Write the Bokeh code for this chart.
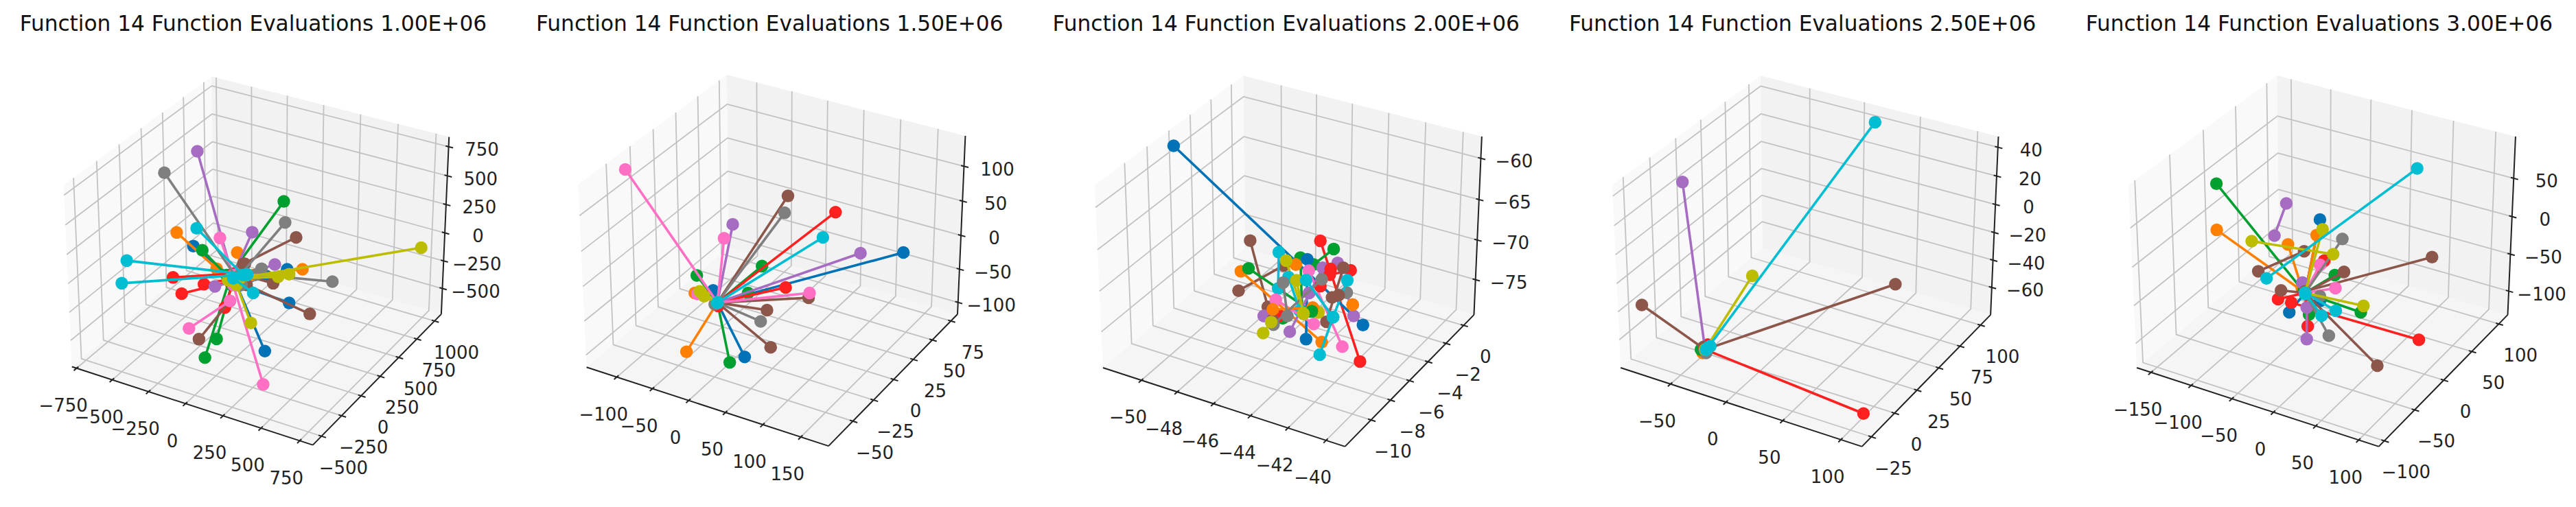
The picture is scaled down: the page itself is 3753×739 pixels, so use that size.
from bokeh.plotting import figure
from bokeh.layouts import row
from bokeh.models import Range1d, ColumnDataSource
from bokeh.core.properties import value
from bokeh.embed import file_html
from bokeh.resources import INLINE

TITLES = ["Function 14 Function Evaluations 1.00E+06",
          "Function 14 Function Evaluations 1.50E+06",
          "Function 14 Function Evaluations 2.00E+06",
          "Function 14 Function Evaluations 2.50E+06",
          "Function 14 Function Evaluations 3.00E+06"]
PALETTE = ["#0072b5", "#ff8000", "#00a030", "#ff2020", "#a56cc1",
           "#8c564b", "#ff70c4", "#7f7f7f", "#bcbd00", "#00bed2"]

# axis limits and ticks of each panel
X_LIMITS = [(-783, 834), (-143, 186), (-52.18, -39.02), (-96, 117.8), (-168, 123)]
Y_LIMITS = [(-606, 1097), (-78.6, 84), (-12.6, 1.2), (-35, 112.5), (-109, 117)]
Z_LIMITS = [(-735, 833), (-118, 143), (-79.5, -57.4), (-80.3, 47.4), (-132.6, 103.6)]
X_TICKS = [[-750, -500, -250, 0, 250, 500, 750], [-100, -50, 0, 50, 100, 150],
           [-50, -48, -46, -44, -42, -40], [-50, 0, 50, 100], [-150, -100, -50, 0, 50, 100]]
Y_TICKS = [[-500, -250, 0, 250, 500, 750, 1000], [-50, -25, 0, 25, 50, 75],
           [-10, -8, -6, -4, -2, 0], [-25, 0, 25, 50, 75, 100], [-100, -50, 0, 50, 100]]
Z_TICKS = [[-500, -250, 0, 250, 500, 750], [-100, -50, 0, 50, 100],
           [-75, -70, -65, -60], [-60, -40, -20, 0, 20, 40], [-100, -50, 0, 50]]

# swarm segments, read in the projected picture plane of each panel (series colour, two ends)
P1_C = [7, 4, 2, 2, 2, 7, 5, 4, 1, 9, 6, 6, 0, 2, 1, 8, 9, 9, 3, 3, 3, 4, 4, 1, 0, 0, 0, 0, 7, 7, 7, 5, 5, 5, 5, 8, 8, 8, 9, 6, 3, 8, 9]
P1_XA = [493, 592, 852, 615, 650, 856, 889, 757, 530, 590, 660, 790, 580, 607, 712, 1265, 380, 365, 519, 545, 612, 825, 645, 908, 862, 800, 868, 795, 998, 785, 720, 820, 930, 597, 735, 868, 835, 753, 760, 567, 675, 685, 742]
P1_YA = [533, 467, 622, 1105, 1047, 687, 733, 717, 718, 705, 735, 1188, 760, 773, 780, 765, 805, 875, 857, 907, 878, 817, 885, 832, 832, 853, 936, 1085, 870, 830, 880, 875, 970, 1048, 815, 847, 855, 998, 905, 1015, 950, 865, 848]
P1_XB = [725, 700, 690, 690, 695, 720, 730, 700, 650, 730, 700, 700, 700, 680, 725, 690, 740, 740, 700, 690, 700, 730, 700, 760, 720, 730, 720, 710, 770, 720, 720, 730, 740, 690, 720, 740, 720, 710, 700, 690, 700, 685, 742]
P1_YB = [880, 860, 850, 860, 880, 850, 815, 850, 830, 850, 850, 880, 860, 850, 830, 865, 848, 848, 845, 870, 860, 850, 870, 850, 880, 870, 880, 880, 848, 850, 880, 850, 880, 930, 850, 850, 860, 880, 860, 930, 870, 865, 848]

P2_C = [6, 5, 7, 3, 9, 4, 6, 4, 0, 2, 2, 0, 3, 2, 6, 5, 5, 7, 5, 1, 0, 2, 1, 6, 8, 8, 7, 3, 5, 9]
P2_XA = [331, 820, 810, 963, 925, 654, 628, 1038, 1167, 742, 546, 595, 813, 700, 885, 882, 757, 738, 768, 515, 690, 645, 540, 548, 555, 568, 600, 610, 605, 608]
P2_YA = [523, 605, 657, 655, 733, 693, 736, 782, 780, 822, 851, 897, 888, 905, 905, 920, 958, 993, 1073, 1087, 1103, 1120, 905, 908, 900, 915, 940, 945, 938, 935]
P2_XB = [608] * 30
P2_YB = [935] * 30

P3_C = [5, 5, 1, 2, 3, 2, 2, 0, 9, 1, 0, 8, 6, 4, 4, 3, 3, 5, 9, 7, 1, 6, 4, 4, 2, 3, 5, 8, 1, 7, 8, 7, 8, 9, 9, 9, 5, 2, 8]
P3_XA = [662, 627, 634, 657, 873, 913, 813, 432, 748, 799, 834, 770, 838, 880, 925, 964, 904, 942, 777, 952, 970, 739, 703, 839, 760, 750, 729, 867, 730, 732, 701, 774, 801, 871, 954, 830, 908, 847, 822]
P3_YA = [743, 898, 838, 829, 744, 769, 796, 450, 779, 817, 801, 805, 836, 827, 812, 835, 831, 827, 856, 904, 941, 926, 976, 905, 983, 975, 990, 965, 956, 1003, 1029, 976, 866, 1096, 866, 865, 919, 962, 969]
P3_XB = [715, 763, 877, 846, 992, 853, 818, 1001, 746, 799, 830, 822, 939, 781, 973, 901, 873, 891, 811, 952, 970, 853, 703, 839, 760, 750, 729, 867, 850, 877, 725, 761, 822, 911, 911, 911, 928, 847, 822]
P3_YB = [948, 820, 1057, 962, 1117, 817, 962, 1004, 891, 817, 1048, 969, 1071, 1025, 976, 849, 884, 994, 960, 904, 941, 1001, 976, 905, 983, 975, 990, 965, 950, 863, 995, 873, 969, 980, 980, 980, 912, 962, 969]

P4_C = [9, 4, 8, 5, 5, 3, 1, 0, 2, 5, 3, 7, 9, 9]
P4_XA = [993, 414, 624, 1054, 292, 958, 475, 480, 470, 478, 490, 485, 485, 497]
P4_YA = [377, 562, 852, 878, 942, 1278, 1090, 1085, 1080, 1072, 1065, 1090, 1080, 1070]
P4_XB = [490, 482, 482, 482, 482, 482, 475, 480, 470, 478, 490, 485, 485, 497]
P4_YB = [1075, 1080, 1080, 1080, 1080, 1080, 1090, 1085, 1080, 1072, 1065, 1090, 1080, 1070]

P5_C = [9, 2, 1, 4, 0, 8, 1, 8, 1, 7, 5, 5, 3, 6, 2, 5, 6, 5, 3, 3, 7, 0, 8, 2, 0, 2, 9, 9, 3, 4, 7, 5, 4, 9]
P5_XA = [1085, 476, 477, 688, 790, 798, 780, 583, 693, 858, 742, 1130, 803, 790, 835, 863, 837, 672, 663, 703, 790, 790, 922, 914, 697, 757, 838, 795, 753, 750, 817, 964, 737, 745]
P5_YA = [520, 567, 710, 628, 678, 708, 726, 745, 755, 738, 776, 794, 805, 818, 850, 840, 890, 897, 924, 935, 915, 930, 945, 965, 965, 972, 960, 975, 1008, 1048, 1037, 1130, 873, 908]
P5_XB = [628, 740, 745, 652, 745, 745, 745, 830, 735, 745, 603, 745, 745, 745, 745, 745, 745, 745, 745, 1090, 745, 745, 745, 745, 745, 745, 745, 745, 745, 750, 745, 745, 737, 745]
P5_YB = [860, 900, 905, 728, 905, 905, 905, 785, 890, 905, 838, 900, 905, 905, 905, 905, 905, 905, 905, 1050, 905, 905, 905, 905, 905, 905, 905, 905, 905, 950, 905, 905, 873, 908]

SEGMENTS = [(P1_C, P1_XA, P1_YA, P1_XB, P1_YB), (P2_C, P2_XA, P2_YA, P2_XB, P2_YB),
            (P3_C, P3_XA, P3_YA, P3_XB, P3_YB), (P4_C, P4_XA, P4_YA, P4_XB, P4_YB),
            (P5_C, P5_XA, P5_YA, P5_XB, P5_YB)]
KEEP_LIST_ORDER = [False, False, True, False, False]

# picture-plane placement of each panel
CROP_X = [0, 750, 1500, 2250, 3000]
PLANE_SCALE_X = [2.063, 2.063, 2.063, 2.063, 2.082]
PLANE_SCALE_Y = 2.122
VIEW_OX = [780, 782, 787, 794, 807]
VIEW_OY = [779, 778, 780, 780, 780]
VIEW_SX = [7260, 7292, 7292, 7272, 7358]
VIEW_SY = [7470, 7523, 7516, 7516, 7516]
TITLE_X = [760, 765, 770, 775, 788]
TITLE_Y = 72

PANEL_W, PANEL_H, PAGE_OFFSET = 748, 723, 0
ASPECT = (1.143, 1.143, 0.857)
U = (0.866025, 0.5, 0.0)
V = (-0.25, 0.433013, 0.866025)
W = (0.433013, -0.75, 0.5)
DIST = 10.0


def fmt(v):
    return str(v).replace("-", "\u2212")


def make_panel(i):
    s = PLANE_SCALE_X[i]
    t = PLANE_SCALE_Y
    left = (PAGE_OFFSET + PANEL_W * i - CROP_X[i]) * s
    right = (PAGE_OFFSET + PANEL_W * (i + 1) - CROP_X[i]) * s
    p = figure(width=PANEL_W, height=PANEL_H, output_backend="svg", toolbar_location=None,
               x_range=Range1d(left, right),
               y_range=Range1d((PAGE_OFFSET + PANEL_H) * t, PAGE_OFFSET * t),
               min_border=0, outline_line_color=None, background_fill_color="white")
    p.xaxis.visible = False
    p.yaxis.visible = False
    p.xgrid.visible = False
    p.ygrid.visible = False

    def proj(a, b, c):
        d = ((a - .5) * ASPECT[0], (b - .5) * ASPECT[1], (c - .5) * ASPECT[2])
        ua = sum(x * y for x, y in zip(d, U))
        vb = sum(x * y for x, y in zip(d, V))
        wc = sum(x * y for x, y in zip(d, W))
        k = DIST - wc
        return VIEW_OX[i] + VIEW_SX[i] * ua / k, VIEW_OY[i] - VIEW_SY[i] * vb / k

    def poly(pts, fill):
        xy = [proj(*q) for q in pts]
        p.patch([q[0] for q in xy], [q[1] for q in xy], fill_color=fill, line_color=None)

    poly([(0, 0, 0), (0, 1, 0), (0, 1, 1), (0, 0, 1)], "#f9f9f9")
    poly([(0, 1, 0), (1, 1, 0), (1, 1, 1), (0, 1, 1)], "#f2f2f2")
    poly([(0, 0, 0), (1, 0, 0), (1, 1, 0), (0, 1, 0)], "#f5f5f5")

    xmin, xmax = X_LIMITS[i]
    ymin, ymax = Y_LIMITS[i]
    zmin, zmax = Z_LIMITS[i]
    xs_ = [(v - xmin) / (xmax - xmin) for v in X_TICKS[i]]
    ys_ = [(v - ymin) / (ymax - ymin) for v in Y_TICKS[i]]
    zs_ = [(v - zmin) / (zmax - zmin) for v in Z_TICKS[i]]

    gx, gy = [], []

    def path(*pts):
        xy = [proj(*q) for q in pts]
        gx.append([q[0] for q in xy])
        gy.append([q[1] for q in xy])

    for a in xs_:
        path((a, 0, 0), (a, 1, 0), (a, 1, 1))
    for b in ys_:
        path((1, b, 0), (0, b, 0), (0, b, 1))
    for c in zs_:
        path((1, 1, c), (0, 1, c), (0, 0, c))
    p.multi_line(gx, gy, line_color="#c2c2c2", line_width=1.8)

    ax, ay = [], []

    def apath(*pts):
        xy = [proj(*q) for q in pts]
        ax.append([q[0] for q in xy])
        ay.append([q[1] for q in xy])

    apath((0, 0, 0), (1, 0, 0))
    apath((1, 0, 0), (1, 1, 0))
    apath((1, 1, 0), (1, 1, 1))
    tlx, tly, tl = [], [], []
    for a, v in zip(xs_, X_TICKS[i]):
        apath((a, -0.018, 0), (a, 0.012, 0))
        q = proj(a, 0, 0)
        tlx.append(q[0] - 40); tly.append(q[1] + 113); tl.append(fmt(v))
    for b, v in zip(ys_, Y_TICKS[i]):
        apath((1.018, b, 0), (0.988, b, 0))
        q = proj(1, b, 0)
        tlx.append(q[0] + 66); tly.append(q[1] + 95); tl.append(fmt(v))
    for c, v in zip(zs_, Z_TICKS[i]):
        apath((0.988, 1, c), (1.018, 1, c))
        q = proj(1, 1, c)
        tlx.append(q[0] + 100); tly.append(q[1] + 7); tl.append(fmt(v))
    p.multi_line(ax, ay, line_color="#222222", line_width=2)
    p.text(tlx, tly, text=tl, text_font=value("DejaVu Sans"), text_font_size="26px",
           text_color="#222222", text_align="center", text_baseline="middle")

    p.text([TITLE_X[i]], [TITLE_Y], text=[TITLES[i]], text_font=value("DejaVu Sans"),
           text_font_size="31.2px", text_color="#111111", text_align="center",
           text_baseline="middle")

    cs, xa, ya, xb, yb = SEGMENTS[i]
    order = list(range(len(cs)))
    if not KEEP_LIST_ORDER[i]:
        order.sort(key=lambda j: cs[j])
    runs = []
    for j in order:
        if runs and cs[runs[-1][0]] == cs[j]:
            runs[-1].append(j)
        else:
            runs.append([j])
    for idx in runs:
        col = PALETTE[cs[idx[0]]]
        src = ColumnDataSource(dict(xa=[xa[j] for j in idx], ya=[ya[j] for j in idx],
                                    xb=[xb[j] for j in idx], yb=[yb[j] for j in idx]))
        p.segment("xa", "ya", "xb", "yb", source=src, line_color=col, line_width=3.6)
        p.scatter("xa", "ya", source=src, size=18.5, fill_color=col, line_color=None)
        p.scatter("xb", "yb", source=src, size=18.5, fill_color=col, line_color=None)
    return p


page = row([make_panel(i) for i in range(5)], spacing=0)
open("out.html", "w").write(file_html(page, INLINE))
